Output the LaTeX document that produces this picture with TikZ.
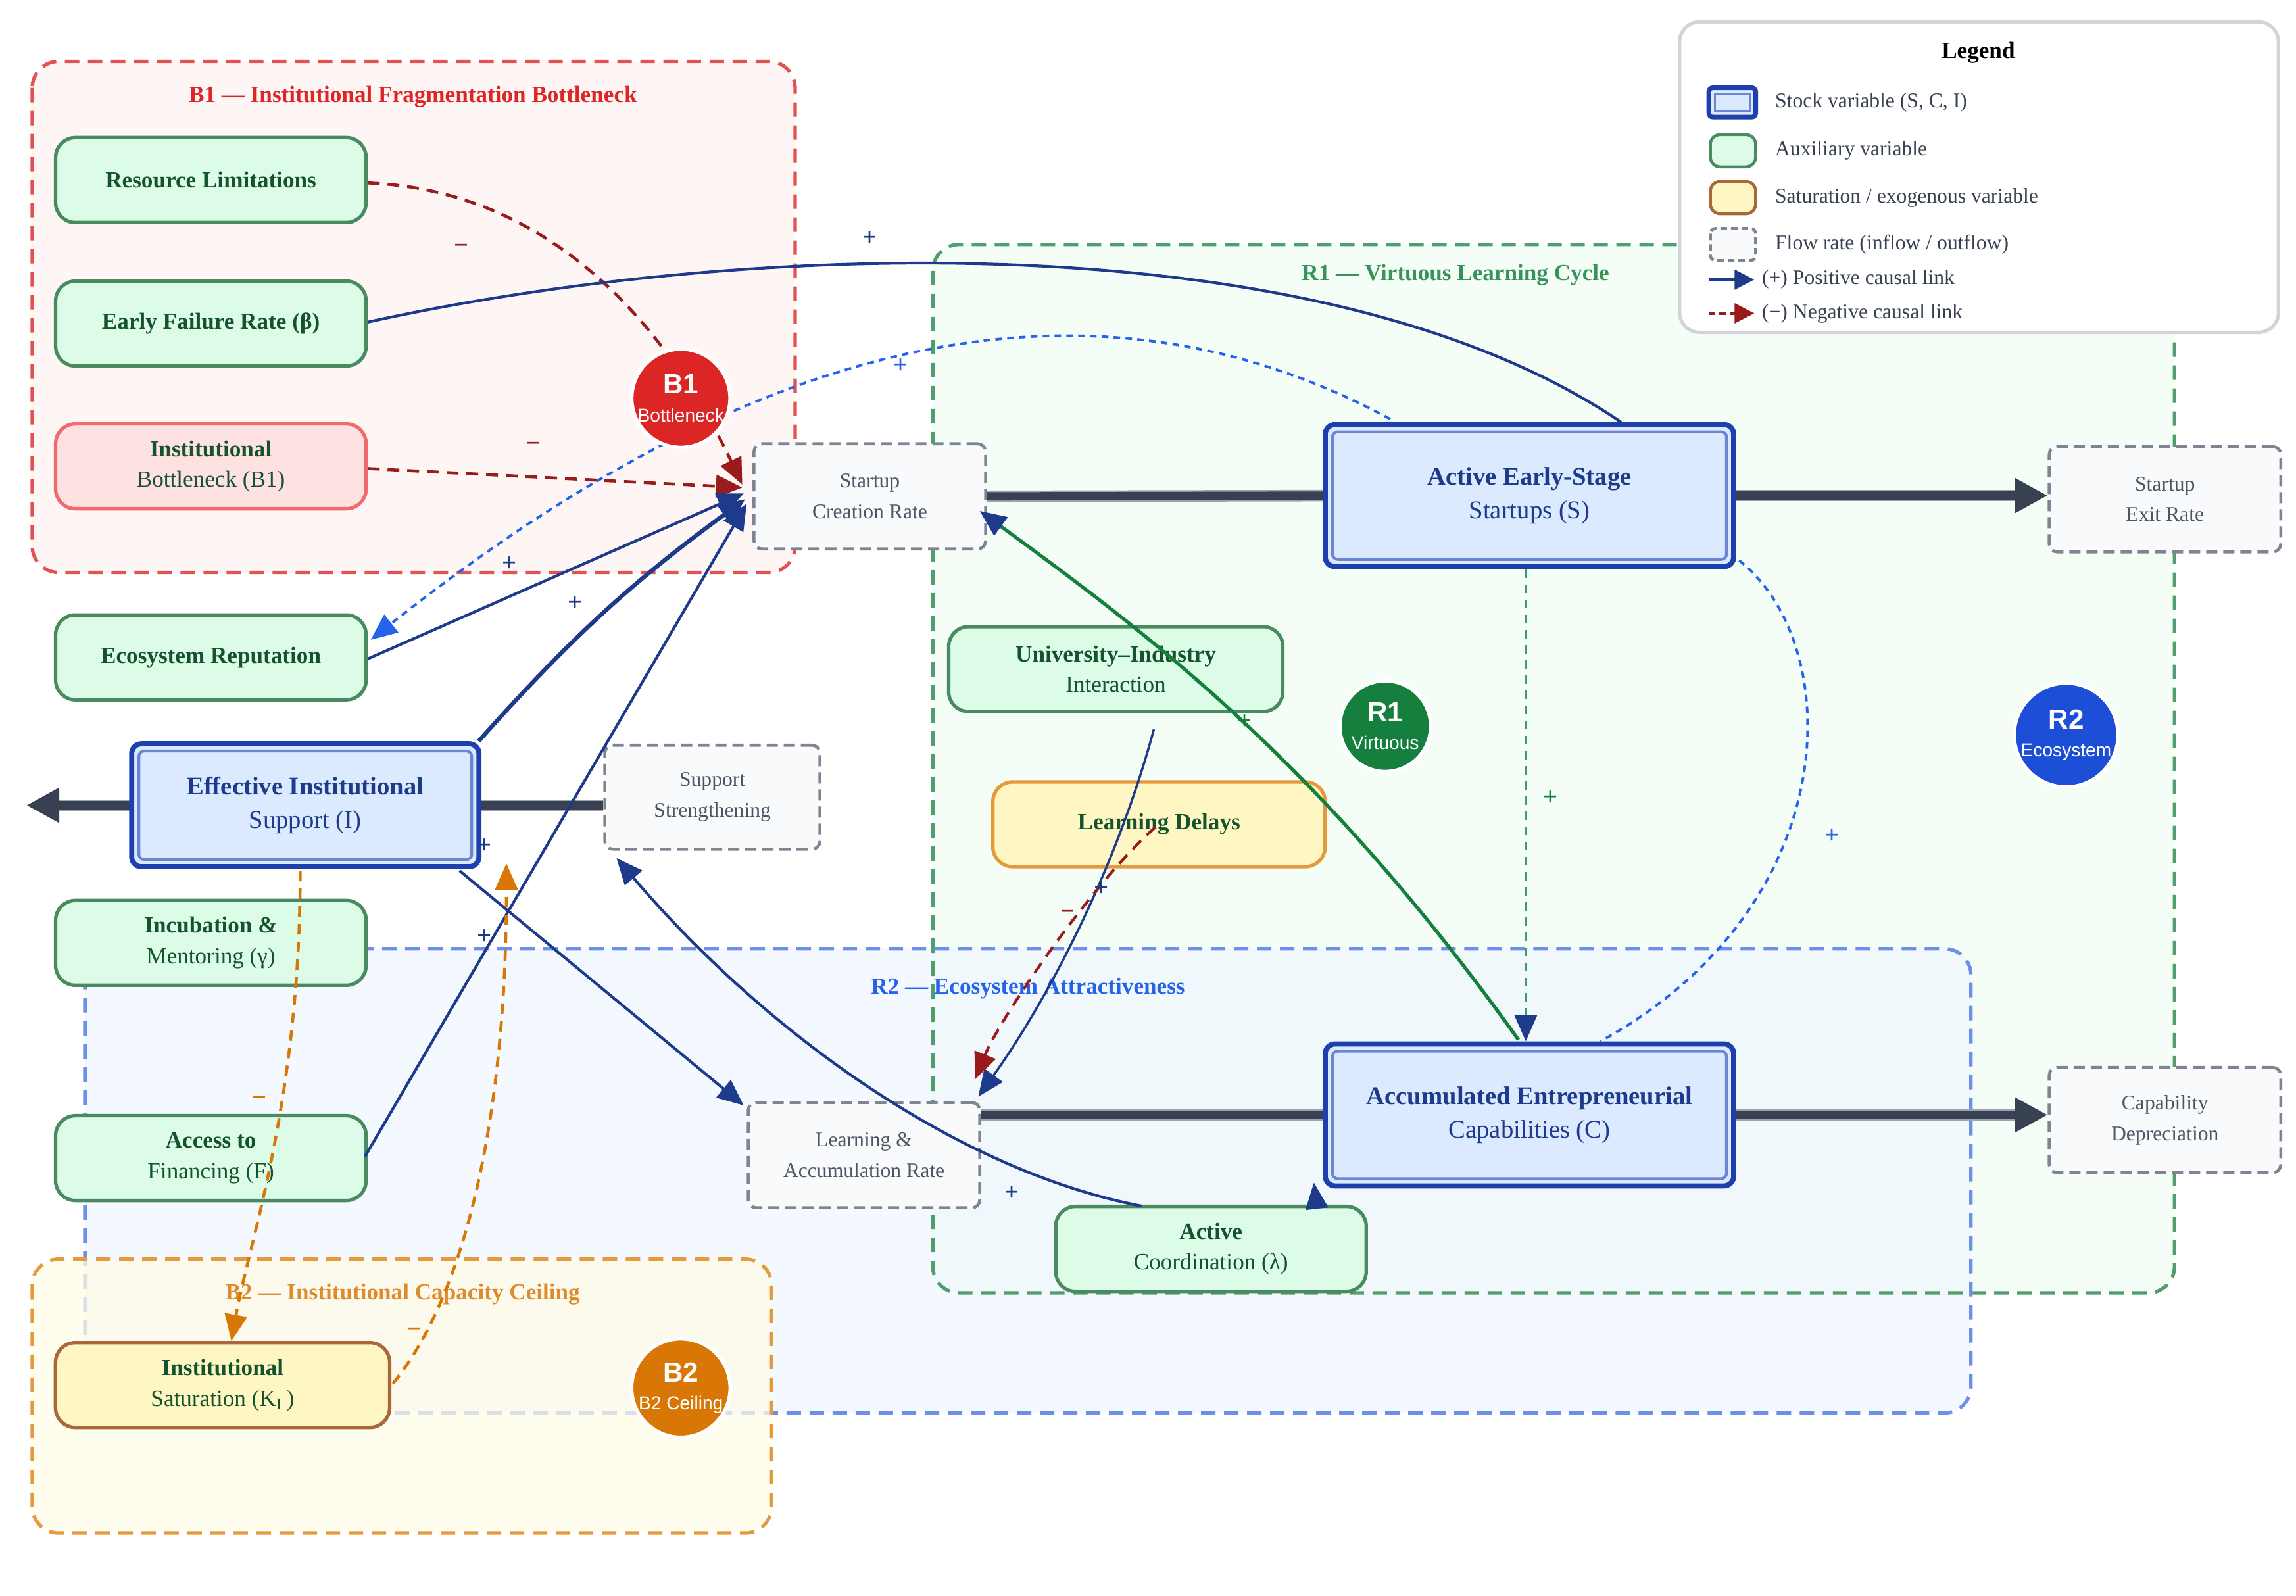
\documentclass[tikz,border=0pt]{standalone}
\usepackage{fontspec}
\setmainfont{Liberation Serif}
\setsansfont{Liberation Sans}
\usetikzlibrary{arrows.meta,calc,positioning}

% colours
\definecolor{auxfill}{HTML}{DCFCE7}
\definecolor{auxline}{HTML}{4A8A60}
\definecolor{auxtext}{HTML}{14532D}
\definecolor{stockfill}{HTML}{DBEAFE}
\definecolor{stockline}{HTML}{1E40AF}
\definecolor{stockinner}{HTML}{6B84D3}
\definecolor{stocktext}{HTML}{1E3A8A}
\definecolor{flowfill}{HTML}{F8FAFC}
\definecolor{flowline}{HTML}{7E8491}
\definecolor{flowtext}{HTML}{4B5563}
\definecolor{satfill}{HTML}{FEF7C3}
\definecolor{satline}{HTML}{A8683A}
\definecolor{delayline}{HTML}{E5993A}
\definecolor{bnfill}{HTML}{FEE2E2}
\definecolor{bnline}{HTML}{F06B6B}
\definecolor{posblue}{HTML}{1E3A8A}
\definecolor{negred}{HTML}{991B1B}
\definecolor{dotblue}{HTML}{2563EB}
\definecolor{loopgreen}{HTML}{15803D}
\definecolor{satorange}{HTML}{D97706}
\definecolor{pipecore}{HTML}{374151}
\definecolor{pipeedge}{HTML}{9CA3AF}
\definecolor{b1line}{HTML}{E25252}
\definecolor{b1fill}{HTML}{FEF2F2}
\definecolor{r1line}{HTML}{4F9E6B}
\definecolor{r1fill}{HTML}{F0FDF4}
\definecolor{r2line}{HTML}{6D8FE8}
\definecolor{r2fill}{HTML}{EFF6FF}
\definecolor{b2line}{HTML}{E59A3D}
\definecolor{b2fill}{HTML}{FEFCE8}
\definecolor{legline}{HTML}{D4D4D8}
\definecolor{legink}{HTML}{374151}
\definecolor{b1mark}{HTML}{DC2626}
\definecolor{b2mark}{HTML}{D97706}
\definecolor{r1mark}{HTML}{15803D}
\definecolor{r2mark}{HTML}{1D4ED8}

\pgfdeclarelayer{groups}
\pgfdeclarelayer{pipes}
\pgfsetlayers{groups,pipes,main}

\tikzset{
  aux/.style={rectangle, rounded corners=3mm, draw=auxline, line width=1.5pt, fill=auxfill,
    text=auxtext, align=center, font=\fontsize{10}{13.3}\selectfont,
    minimum width=47.2mm, minimum height=12.9mm},
  stock/.style={rectangle, rounded corners=1.5mm, draw=stockline, line width=2.2pt, fill=stockfill,
    text=stocktext, align=center, font=\fontsize{11}{14.6}\selectfont,
    path picture={\draw[stockinner, line width=1.2pt, rounded corners=0.8mm]
      ([shift={(1.1mm,1.1mm)}]path picture bounding box.south west) rectangle
      ([shift={(-1.1mm,-1.1mm)}]path picture bounding box.north east);}},
  flow/.style={rectangle, rounded corners=1.2mm, draw=flowline, line width=1.3pt,
    dash pattern=on 1.7mm off 0.9mm, fill=flowfill, text=flowtext, align=center,
    font=\fontsize{9}{13.3}\selectfont, minimum width=35.2mm, minimum height=16mm},
  loopmark/.style={circle, minimum size=13.8mm, inner sep=0pt, draw=white, line width=1.5pt,
    text=white, align=center, font=\sffamily\fontsize{8}{12}\selectfont},
  looparea/.style={rounded corners=4mm, line width=1.5pt, dash pattern=on 2.2mm off 1.3mm},
  looptitle/.style={font=\bfseries\fontsize{10}{12}\selectfont, inner sep=0pt},
  pipe/.style={draw=pipecore, line width=3.6pt,
    preaction={draw=pipeedge, line width=5pt}},
  pipeout/.style={draw=pipecore, line width=3.6pt, -{Triangle[length=5mm,width=5mm]},
    preaction={draw=pipeedge, line width=5pt, -, shorten >=4.5mm}},
  poslink/.style={draw=posblue, line width=1.2pt, -{Triangle[length=4mm,width=3.4mm]}},
  neglink/.style={draw=negred, line width=1.3pt, dash pattern=on 1.8mm off 1.2mm,
    -{Triangle[length=4mm,width=3.4mm]}},
  dotlink/.style={draw=dotblue, line width=1.1pt, dash pattern=on 1mm off 0.8mm},
  satlink/.style={draw=satorange, line width=1.3pt, dash pattern=on 1.6mm off 1.1mm,
    -{Triangle[length=4mm,width=3.4mm]}},
  sgn/.style={font=\bfseries\fontsize{11}{11}\selectfont, inner sep=0pt},
  legentry/.style={anchor=west, inner sep=0pt, text=legink, font=\fontsize{9}{11}\selectfont},
}

\begin{document}
\begin{tikzpicture}[x=0.2226mm, y=-0.2226mm]
  \useasboundingbox (0,0) rectangle (1568,1090);

  % loop areas
  \begin{pgfonlayer}{groups}
    \fill[r1fill, fill opacity=0.7] [rounded corners=4mm] (637,167) rectangle (1485,883);
    \fill[r2fill, fill opacity=0.7] [rounded corners=4mm] (58,648) rectangle (1346,965);
    \draw[looparea, draw=r1line] (637,167) rectangle (1485,883);
    \draw[looparea, draw=r2line] (58,648) rectangle (1346,965);
    \draw[looparea, draw=b2line, fill=b2fill, fill opacity=0.75] (22,860) rectangle (527,1047);
    \draw[looparea, draw=b1line, fill=b1fill, fill opacity=0.8] (22,42) rectangle (543,391);
  \end{pgfonlayer}
  \node[looptitle, text=b1mark] (b1title) at (282,66) {B1 — Institutional Fragmentation Bottleneck};
  \node[looptitle, text=loopgreen!85!white] (r1title) at (994,188) {R1 — Virtuous Learning Cycle};
  \node[looptitle, text=dotblue] (r2title) at (702,675) {R2 — Ecosystem Attractiveness};
  \node[looptitle, text=b2mark!85!white] (b2title) at (275,884) {B2 — Institutional Capacity Ceiling};

  % legend
  \draw[draw=legline, line width=1.5pt, fill=white, rounded corners=3mm] (1147,15) rectangle (1556,227);
  \node[looptitle, text=black] (legtitle) at (1351,36) {Legend};
  \draw[draw=stockline, line width=2pt, fill=stockfill, rounded corners=0.6mm] (1167,60) rectangle (1199,80);
  \draw[draw=stockinner, line width=0.8pt] (1171,64) rectangle (1195,76);
  \draw[draw=auxline, line width=1.3pt, fill=auxfill, rounded corners=1.5mm] (1168,92) rectangle (1199,114);
  \draw[draw=satline, line width=1.3pt, fill=satfill, rounded corners=1.5mm] (1168,124) rectangle (1199,146);
  \draw[draw=flowline, line width=1.3pt, dash pattern=on 1mm off 0.6mm, fill=flowfill, rounded corners=0.8mm] (1168,156) rectangle (1199,178);
  \draw[draw=posblue, line width=1.2pt, -{Triangle[length=3mm,width=3mm]}] (1167,191) -- (1198,191);
  \draw[draw=negred, line width=1.2pt, dash pattern=on 1mm off 0.6mm, -{Triangle[length=3mm,width=3mm]}] (1167,214) -- (1198,214);
  \node[legentry] (lg1) at (1212,70) {Stock variable (S, C, I)};
  \node[legentry] (lg2) at (1212,103) {Auxiliary variable};
  \node[legentry] (lg3) at (1212,135) {Saturation / exogenous variable};
  \node[legentry] (lg4) at (1212,167) {Flow rate (inflow / outflow)};
  \node[legentry] (lg5) at (1203,191) {(+) Positive causal link};
  \node[legentry] (lg6) at (1203,214) {(−) Negative causal link};

  % stocks
  \node[stock, minimum width=62.1mm, minimum height=21.6mm] (aes) at (1044.5,338.5) {\textbf{Active Early-Stage}\\Startups (S)};
  \node[stock, minimum width=62.1mm, minimum height=21.6mm] (aec) at (1044.5,761.5) {\textbf{Accumulated Entrepreneurial}\\Capabilities (C)};
  \node[stock, minimum width=52.8mm, minimum height=18.7mm] (eis) at (208.5,550) {\textbf{Effective Institutional}\\Support (I)};

  % flows
  \node[flow] (scr) at (594,339) {Startup\\Creation Rate};
  \node[flow] (ser) at (1478.5,341) {Startup\\Exit Rate};
  \node[flow] (lar) at (590,789) {Learning \&\\Accumulation Rate};
  \node[flow] (cd) at (1478.5,765) {Capability\\Depreciation};
  \node[flow, minimum width=32.7mm, minimum height=15.8mm] (ss) at (486.5,544.5) {Support\\Strengthening};

  % auxiliaries
  \node[aux] (rl) at (144,123) {\textbf{Resource Limitations}};
  \node[aux] (efr) at (144,221) {\textbf{Early Failure Rate (β)}};
  \node[aux, fill=bnfill, draw=bnline] (ib) at (144,318.5) {\textbf{Institutional}\\Bottleneck (B1)};
  \node[aux] (er) at (144,449) {\textbf{Ecosystem Reputation}};
  \node[aux] (im) at (144,644) {\textbf{Incubation \&}\\Mentoring (γ)};
  \node[aux] (af) at (144,791) {\textbf{Access to}\\Financing (F)};
  \node[aux, fill=satfill, draw=satline, minimum width=50.8mm] (sat) at (152,946) {\textbf{Institutional}\\Saturation (K\textsubscript{I}\,)};
  \node[aux, minimum width=50.8mm] (uii) at (762,457) {\textbf{University–Industry}\\Interaction};
  \node[aux, fill=satfill, draw=delayline, minimum width=50.5mm] (ld) at (791.5,563) {\textbf{Learning Delays}};
  \node[aux] (ac) at (827,853) {\textbf{Active}\\Coordination (λ)};

  % stock-flow pipes
  \coordinate (isink) at (18,550);
  \begin{pgfonlayer}{pipes}
    \draw[pipeout] (ss.west |- eis) -- (isink);
    \draw[pipe] (scr.east) -- (aes.west);
    \draw[pipeout] (aes.east) -- (aes.east -| ser.west);
    \draw[pipe] (lar.east |- aec.west) -- (aec.west);
    \draw[pipeout] (aec.east) -- (aec.east -| cd.west);
  \end{pgfonlayer}

  % B1 links
  \draw[neglink] ($(rl.east)+(0,2)$) .. controls +(130,5) and +(-48,-101) .. ($(scr.west)+(-7,-8)$);
  \draw[neglink] ($(ib.east)+(0,1.5)$) -- ($(scr.west)+(-7,-6)$);
  \draw[posblue, line width=1.2pt] ($(efr.east)+(0,-1)$) .. controls +(250,-55) and +(-207,-140) .. ($(aes.north)+(62.5,0)$);
  \draw[dotlink, -{Triangle[length=4mm,width=3.4mm]}] ($(aes.north)+(-95,-2)$) .. controls +(-250,-135) and +(198,-157) .. ($(er.east)+(2,-12)$);
  \draw[poslink] ($(er.east)+(0,1)$) -- ($(scr.west)+(-6,-2)$);
  \draw[poslink, line width=1.8pt] ($(eis.north east)+(-2,0)$) to[bend left=6] ($(scr.west)+(-5,2)$);
  \draw[poslink] ($(af.east)+(-2,-1)$) -- ($(scr.west)+(-4,5)$);

  % R1 / R2 links
  \draw[poslink] ($(eis.south east)+(-15,1)$) -- ($(lar.north west)+(-2,3)$);
  \draw[poslink] ($(ac.north)+(-47,1)$) .. controls +(-130,-25) and +(98,115) .. ($(ss.south west)+(9,5)$);
  \draw[poslink] ($(ac.north)+(72,0)$) -- ($(aec.south west)+(-6,-4)$);
  \draw[poslink, line width=1pt] ($(uii.south)+(26,11)$) .. controls +(-28,103) and +(43,-60) .. ($(lar.north east)+(-2,-3)$);
  \draw[neglink, line width=1.2pt] ($(ld.center)+(-2.5,2)$) .. controls +(-45,40) and +(16,-40) .. ($(lar.north east)+(-4,-15)$);
  \draw[draw=loopgreen, line width=1.5pt, -{Triangle[length=4mm,width=3.4mm,color=posblue]}] ($(aec.north)+(-7.5,-1)$) .. controls +(-137,-192) and +(112,82) .. ($(scr.south east)+(-5,-27)$);
  \draw[draw=loopgreen!80!white, line width=1.2pt, dash pattern=on 1.3mm off 1mm, -{Triangle[length=4mm,width=3.4mm,color=posblue]}] ($(aes.south)+(-2.5,0)$) -- ($(aec.north)+(-2.5,0)$);
  \draw[dotlink] ($(aes.south east)+(2,-6)$) .. controls +(74,59) and +(167,-92) .. ($(aec.north)+(48.5,0)$);

  % B2 links
  \draw[satlink] ($(eis.south)+(-3.5,1)$) .. controls +(0,157) and +(12,-67) .. ($(sat.north)+(6,0)$);
  \draw[satlink] ($(sat.east)+(1,-1)$) .. controls +(53,-65) and +(0,162) .. ($(eis.south east)+(17,-4)$);

  % polarity signs
  \node[sgn, text=negred] (sg1) at (315,170) {−};
  \node[sgn, text=negred] (sg2) at (364,305) {−};
  \node[sgn, text=negred] (sg3) at (729,625) {−};
  \node[sgn, text=satorange] (sg4) at (177,752) {−};
  \node[sgn, text=satorange] (sg5) at (283,910) {−};
  \node[sgn, text=posblue] (sg6) at (594,163) {+};
  \node[sgn, text=dotblue] (sg7) at (615,250) {+};
  \node[sgn, text=posblue] (sg8) at (348,385) {+};
  \node[sgn, text=posblue] (sg9) at (393,412) {+};
  \node[sgn, text=posblue] (sg10) at (331,640) {+};
  \node[sgn, text=posblue] (sg11) at (331,578) {+};
  \node[sgn, text=loopgreen] (sg12) at (850,493) {+};
  \node[sgn, text=loopgreen] (sg13) at (1059,545) {+};
  \node[sgn, text=dotblue] (sg14) at (1251,571) {+};
  \node[sgn, text=posblue] (sg15) at (752,607) {+};
  \node[sgn, text=posblue] (sg16) at (691,815) {+};

  % loop markers
  \node[loopmark, fill=b1mark] (b1) at (465,272) {{\fontsize{12}{12}\selectfont\bfseries B1}\\Bottleneck};
  \node[loopmark, fill=b2mark] (b2) at (465,948) {{\fontsize{12}{12}\selectfont\bfseries B2}\\B2 Ceiling};
  \node[loopmark, fill=r1mark] (r1) at (946,496) {{\fontsize{12}{12}\selectfont\bfseries R1}\\Virtuous};
  \node[loopmark, fill=r2mark] (r2) at (1411,502) {{\fontsize{12}{12}\selectfont\bfseries R2}\\Ecosystem};
\end{tikzpicture}
\end{document}
